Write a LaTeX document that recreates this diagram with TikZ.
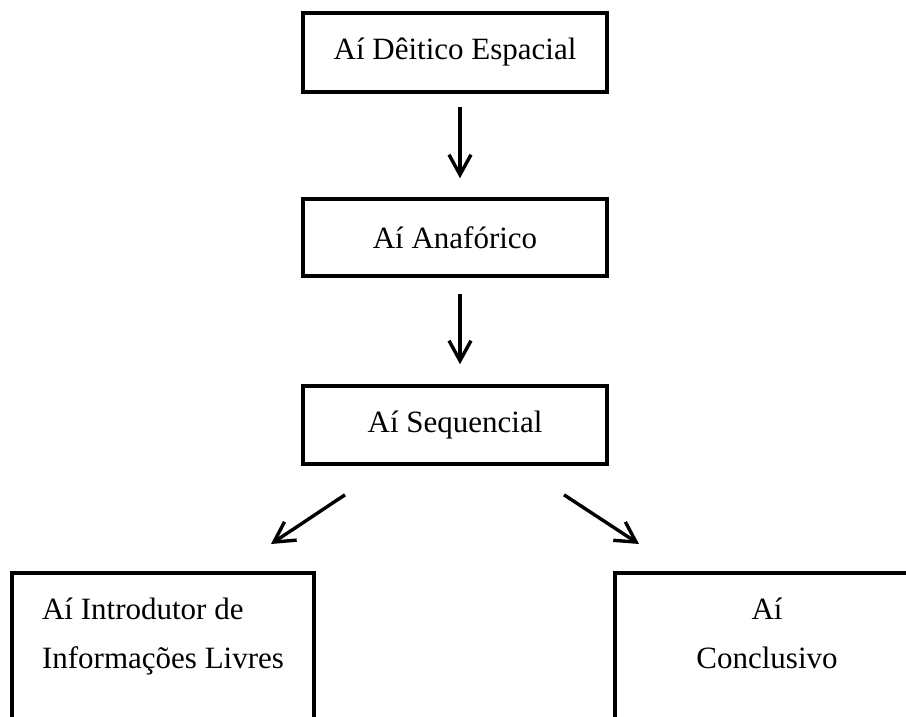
\documentclass[tikz,border=0pt]{standalone}
\usepackage{fontspec}
\setmainfont{Liberation Serif}
\usetikzlibrary{arrows.meta}

\begin{document}
\begin{tikzpicture}[x = 1pt, y = -1pt,
		caixa/.style = {draw, line width = 3.6pt, minimum width = 304pt,
			minimum height = 78pt, font = \fontsize{31}{49}\selectfont},
		seta/.style = {line width = 3.4pt, -{Straight Barb[length = 20pt, width = 22pt]}}]
		\useasboundingbox (0,0) rectangle (906,717);
		\clip (0,0) rectangle (906,717);
		\node [caixa, minimum height = 79pt] (deitico) at (455,52.5) {Aí Dêitico Espacial};
		\node [caixa, minimum height = 77pt] (anaforico) at (455,237.5) {Aí Anafórico};
		\node [caixa] (sequencial) at (455,425) {Aí Sequencial};
		\node [caixa, anchor = north, align = left, minimum width = 302pt,
			inner ysep = 25pt, text depth = 150pt] (introdutor) at (163,571)
			{Aí Introdutor de\\Informações Livres};
		\node [caixa, anchor = north, align = center,
			inner ysep = 25pt, text depth = 150pt] (conclusivo) at (767,571)
			{Aí\\Conclusivo};
		\draw [seta] ([xshift = 5pt, yshift = -13pt]deitico.south)
			-- ([xshift = 5pt, yshift = 19pt]anaforico.north);
		\draw [seta] ([xshift = 5pt, yshift = -16pt]anaforico.south)
			-- ([xshift = 5pt, yshift = 20pt]sequencial.north);
		\draw [seta] ([xshift = -110pt, yshift = -29pt]sequencial.south)
			-- ([xshift = 108pt, yshift = 27pt]introdutor.north);
		\draw [seta] ([xshift = 109pt, yshift = -29pt]sequencial.south)
			-- ([xshift = -128pt, yshift = 27pt]conclusivo.north);
	\end{tikzpicture}
\end{document}
